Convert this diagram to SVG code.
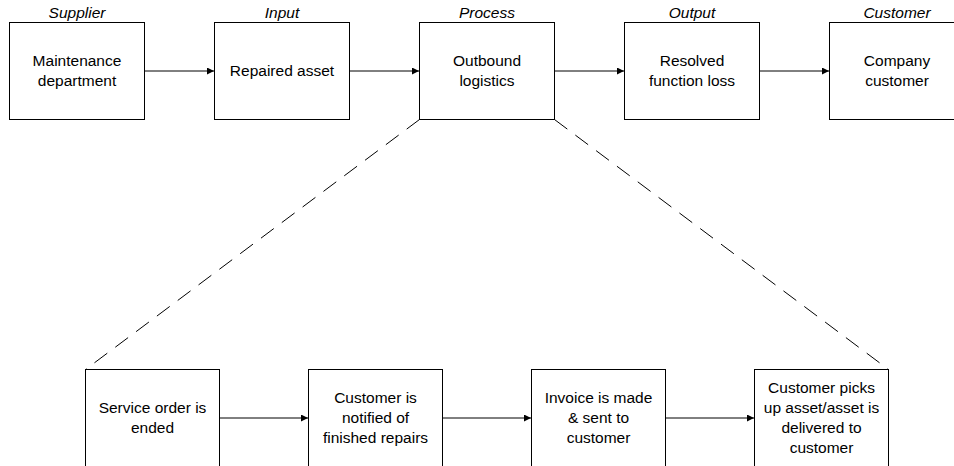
<svg xmlns="http://www.w3.org/2000/svg" width="954" height="466" viewBox="0 0 954 466">
  <style>
    .box { fill: #ffffff; stroke: #000000; stroke-width: 1; }
    .txt { font-family: "Liberation Sans", Arial, sans-serif; font-size: 15.5px; fill: #000000; text-anchor: middle; }
    .cat { font-family: "Liberation Sans", Arial, sans-serif; font-size: 15.5px; font-style: italic; fill: #000000; text-anchor: middle; }
    .arrow { stroke: #000000; stroke-width: 1; fill: none; marker-end: url(#head); }
    .zoom { stroke: #000000; stroke-width: 1; fill: none; stroke-dasharray: 16 10; }
  </style>
  <defs>
    <marker id="head" viewBox="0 0 10 10" refX="10" refY="5" markerWidth="7" markerHeight="7" markerUnits="userSpaceOnUse" orient="auto">
      <path d="M0,0 L10,5 L0,10 z" fill="#000000"/>
    </marker>
  </defs>
  <rect width="954" height="466" fill="#ffffff"/>

  <!-- connectors -->
  <g id="connectors">
    <line class="arrow" x1="144.5" y1="71" x2="214" y2="71"/>
    <line class="arrow" x1="349.5" y1="71" x2="419" y2="71"/>
    <line class="arrow" x1="554.5" y1="71" x2="624" y2="71"/>
    <line class="arrow" x1="759.5" y1="71" x2="829" y2="71"/>
    <line class="arrow" x1="219.5" y1="418" x2="308" y2="418"/>
    <line class="arrow" x1="442.5" y1="418" x2="531" y2="418"/>
    <line class="arrow" x1="665.5" y1="418" x2="754" y2="418"/>
    <line class="zoom" x1="419.5" y1="119.5" x2="85.5" y2="369.5"/>
    <line class="zoom" x1="554.5" y1="119.5" x2="888.5" y2="369.5"/>
  </g>

  <!-- SIPOC row -->
  <g id="supplier">
    <text class="cat" x="77" y="18">Supplier</text>
    <rect class="box" x="9.5" y="22.5" width="135" height="97"/>
    <text class="txt" x="77" y="66">Maintenance</text>
    <text class="txt" x="77" y="86">department</text>
  </g>
  <g id="input">
    <text class="cat" x="282" y="18">Input</text>
    <rect class="box" x="214.5" y="22.5" width="135" height="97"/>
    <text class="txt" x="282" y="76">Repaired asset</text>
  </g>
  <g id="process">
    <text class="cat" x="487" y="18">Process</text>
    <rect class="box" x="419.5" y="22.5" width="135" height="97"/>
    <text class="txt" x="487" y="66">Outbound</text>
    <text class="txt" x="487" y="86">logistics</text>
  </g>
  <g id="output">
    <text class="cat" x="692" y="18">Output</text>
    <rect class="box" x="624.5" y="22.5" width="135" height="97"/>
    <text class="txt" x="692" y="66">Resolved</text>
    <text class="txt" x="692" y="86">function loss</text>
  </g>
  <g id="customer">
    <text class="cat" x="897" y="18">Customer</text>
    <rect class="box" x="829.5" y="22.5" width="135" height="97"/>
    <text class="txt" x="897" y="66">Company</text>
    <text class="txt" x="897" y="86">customer</text>
  </g>

  <!-- outbound logistics steps -->
  <g id="step-service-order">
    <rect class="box" x="85.5" y="369.5" width="134" height="100"/>
    <text class="txt" x="152.5" y="413">Service order is</text>
    <text class="txt" x="152.5" y="433">ended</text>
  </g>
  <g id="step-notify">
    <rect class="box" x="308.5" y="369.5" width="134" height="100"/>
    <text class="txt" x="375.5" y="403">Customer is</text>
    <text class="txt" x="375.5" y="423">notified of</text>
    <text class="txt" x="375.5" y="443">finished repairs</text>
  </g>
  <g id="step-invoice">
    <rect class="box" x="531.5" y="369.5" width="134" height="100"/>
    <text class="txt" x="598.5" y="403">Invoice is made</text>
    <text class="txt" x="598.5" y="423">&amp; sent to</text>
    <text class="txt" x="598.5" y="443">customer</text>
  </g>
  <g id="step-delivery">
    <rect class="box" x="754.5" y="369.5" width="134" height="100"/>
    <text class="txt" x="821.5" y="393">Customer picks</text>
    <text class="txt" x="821.5" y="413">up asset/asset is</text>
    <text class="txt" x="821.5" y="433">delivered to</text>
    <text class="txt" x="821.5" y="453">customer</text>
  </g>
</svg>
